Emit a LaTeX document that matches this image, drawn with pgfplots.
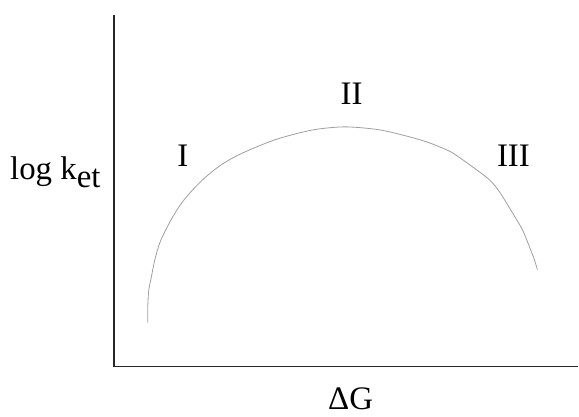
\documentclass[border=0pt]{standalone}
\usepackage{pgfplots}
\pgfplotsset{compat=1.18}
\usepackage{fontspec}
\setmainfont{Liberation Serif}

% Schematic rate vs. driving-force curve (normal, optimal and inverted regions)
\pgfplotstableread{
x y
148 44
148 62
149 77
151 87
155 107
160 124
166 137
173 150
182 164
193 177
205 189
220 201
235 210
250 217
275 227
300 234
320 238
347 240
380 237
410 230
427 225
440 220
453 214
473 200
490 187
500 175
513 154
523 137
530 120
535 107
538 97
}\ketcurve

\begin{document}
\begin{tikzpicture}[x=1bp,y=1bp]
\begin{axis}[
  x=1bp, y=1bp,
  scale only axis,
  xmin=114, xmax=579,
  ymin=0, ymax=352,
  axis lines=left,
  axis line style={-, black!85, line width=1.3bp},
  ticks=none,
  clip=false,
  anchor=origin, at={(114bp,0bp)},
]
\addplot[gray!75, line width=0.8bp, smooth, tension=0.5] table[x=x,y=y] {\ketcurve};

\path (axis cs:0,-50) rectangle (axis cs:579,367);

\begin{scope}[every node/.style={inner sep=0pt, font=\fontsize{33}{38}\selectfont}]
\node[anchor=base west] at (axis cs:10,187) {log k\raisebox{-8bp}{et}};
\node[anchor=base] at (axis cs:183,200) {I};
\node[anchor=base] at (axis cs:352,262) {II};
\node[anchor=base] at (axis cs:514,200) {III};
\node[anchor=base] at (axis cs:351,-43) {ΔG};
\end{scope}
\end{axis}
\end{tikzpicture}
\end{document}
